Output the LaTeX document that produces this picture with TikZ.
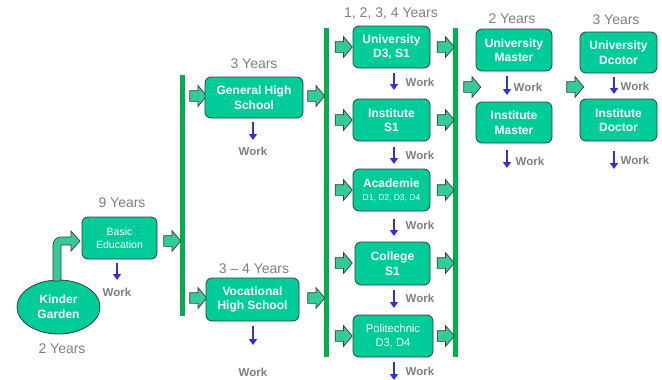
\documentclass[tikz,border=0pt]{standalone}
\usepackage{fontspec}
\setmainfont{Liberation Sans}
\usetikzlibrary{shapes.arrows,shapes.geometric,arrows.meta}
\definecolor{boxfill}{HTML}{00CC99}
\definecolor{arrfill}{HTML}{33CC99}
\definecolor{boxedge}{HTML}{3A3A3A}
\definecolor{bargreen}{HTML}{00B050}
\definecolor{yrsgray}{HTML}{7F7F7F}
\definecolor{workblue}{HTML}{3333CC}
\tikzset{
  box/.style={draw=boxedge, fill=boxfill, rounded corners=6pt, line width=0.8pt,
    text=white, font=\bfseries\fontsize{12}{14.5}\selectfont, align=center, inner sep=0pt},
  smallbox/.style={box, font=\fontsize{10.5}{13}\selectfont},
  barrow/.style={single arrow, draw=boxedge, fill=arrfill, line width=0.7pt,
    minimum height=17pt, single arrow head extend=5pt, single arrow tip angle=100, inner sep=5pt},
  yrs/.style={text=yrsgray, font=\fontsize{14}{16}\selectfont, inner sep=0pt},
  work/.style={text=yrsgray, font=\bfseries\fontsize{11.5}{13}\selectfont, inner sep=0pt},
  bluearr/.style={draw=workblue, line width=2.2pt, -{Triangle[length=6pt,width=8pt]}},
  barfill/.style={fill=bargreen, draw=none}
}
\begin{document}
\begin{tikzpicture}[x=1pt,y=-1pt]
\useasboundingbox[fill=white] (0,0) rectangle (662,380);

% green bars
\fill[barfill] (180,75) rectangle (185,316);
\fill[barfill] (324,28) rectangle (329,357);
\fill[barfill] (453,28) rectangle (458,357);

% Kinder Garden
\node[ellipse, draw=boxedge, fill=boxfill, line width=0.8pt, minimum width=83pt, minimum height=54pt,
  inner sep=0pt, text=white, align=center, font=\bfseries\fontsize{12}{15}\selectfont] (kg) at (58.5,307) {Kinder\\Garden};
\node[yrs] (kgy) at (62,349) {2 Years};

% curved arrow
\draw[boxedge, fill=arrfill, line width=0.7pt]
  (53,281) -- (53,245) .. controls (53,240.6) and (56.6,237) .. (61,237)
  -- (71,237) -- (71,231) -- (80,241) -- (71,251) -- (71,245) -- (61,245) -- (61,281) -- cycle;

% Basic Education
\node[smallbox, minimum width=75pt, minimum height=42pt] (be) at (119.5,238) {Basic\\Education};
\node[yrs] (bey) at (122,203) {9 Years};
\coordinate (be1) at (117,263); \coordinate (be2) at (117,280);
\draw[bluearr] (be1) -- (be2);
\node[work] (bew) at (117,292) {Work};
\node[barrow] (a1) at (170,241) {};

% High schools
\node[barrow] (a2) at (196,96) {};
\node[barrow] (a3) at (196,298) {};
\node[box, minimum width=98pt, minimum height=41pt] (ghs) at (254,97.5) {General High\\School};
\node[yrs] (ghsy) at (254,64) {3 Years};
\coordinate (gh1) at (253,122); \coordinate (gh2) at (253,140);
\draw[bluearr] (gh1) -- (gh2);
\node[work] (ghw) at (253,151) {Work};
\node[box, minimum width=93pt, minimum height=43pt] (vhs) at (252.5,299.5) {Vocational\\High School};
\node[yrs] (vhsy) at (254,269) {3 – 4 Years};
\coordinate (vh1) at (253,326); \coordinate (vh2) at (253,345);
\draw[bluearr] (vh1) -- (vh2);
\node[work] (vhw) at (253,372) {Work};
\node[barrow] (a4) at (314,96) {};
\node[barrow] (a5) at (314,298) {};

% Column 3
\node[yrs] (c3y) at (391,14) {1, 2, 3, 4 Years};
\node[box, minimum width=77pt, minimum height=42pt] (uni) at (391.5,47) {University\\D3, S1};
\node[box, minimum width=77pt, minimum height=42pt] (ins) at (391.5,120) {Institute\\S1};
\node[box, minimum width=77pt, minimum height=42pt] (aca) at (391.5,190) {Academie\\[-1pt]{\mdseries\fontsize{8.5}{10}\selectfont D1, D2, D3, D4}};
\node[box, minimum width=75pt, minimum height=43pt] (col) at (392.5,263.5) {College\\S1};
\node[box, minimum width=80pt, minimum height=42pt, font=\fontsize{11.2}{14}\selectfont] (pol) at (393,336) {Politechnic\\D3, D4};
\foreach \n/\yy in {l1/47, l2/120, l3/190, l4/263, l5/336}{
  \node[barrow] (\n) at (341.5,\yy) {};
}
\foreach \n/\yy in {r1/47, r2/120, r3/190, r4/263, r5/336}{
  \node[barrow] (\n) at (443.5,\yy) {};
}
\coordinate (u1) at (394,73); \coordinate (u2) at (394,90);
\draw[bluearr] (u1) -- (u2);
\node[work] (uw) at (420,82) {Work};
\coordinate (i1) at (394,147); \coordinate (i2) at (394,164);
\draw[bluearr] (i1) -- (i2);
\node[work] (iw) at (420,155) {Work};
\coordinate (ac1) at (394,219); \coordinate (ac2) at (394,236);
\draw[bluearr] (ac1) -- (ac2);
\node[work] (acw) at (420,225) {Work};
\coordinate (co1) at (394,290); \coordinate (co2) at (394,308);
\draw[bluearr] (co1) -- (co2);
\node[work] (cow) at (420,298) {Work};
\coordinate (po1) at (394,362); \coordinate (po2) at (394,380);
\draw[bluearr] (po1) -- (po2);
\node[work] (pow) at (420,371) {Work};

% Column 4
\node[barrow] (a6) at (470,87) {};
\node[yrs] (c4y) at (512,19) {2 Years};
\node[box, minimum width=76pt, minimum height=42pt] (um) at (514,50) {University\\Master};
\node[box, minimum width=76pt, minimum height=41pt] (im) at (514,122.5) {Institute\\Master};
\coordinate (um1) at (507,76); \coordinate (um2) at (507,95);
\draw[bluearr] (um1) -- (um2);
\node[work] (umw) at (528,87) {Work};
\coordinate (im1) at (507,150); \coordinate (im2) at (507,168);
\draw[bluearr] (im1) -- (im2);
\node[work] (imw) at (530,161) {Work};

% Column 5
\node[barrow] (a7) at (573,87) {};
\node[yrs] (c5y) at (616,20) {3 Years};
\node[box, minimum width=77pt, minimum height=41pt] (ud) at (618.5,52.5) {University\\Dcotor};
\node[box, minimum width=77pt, minimum height=42pt] (id) at (618.5,120) {Institute\\Doctor};
\coordinate (ud1) at (614,77); \coordinate (ud2) at (614,94);
\draw[bluearr] (ud1) -- (ud2);
\node[work] (udw) at (635,86) {Work};
\coordinate (id1) at (614,151); \coordinate (id2) at (614,169);
\draw[bluearr] (id1) -- (id2);
\node[work] (idw) at (635,160) {Work};
\end{tikzpicture}
\end{document}
